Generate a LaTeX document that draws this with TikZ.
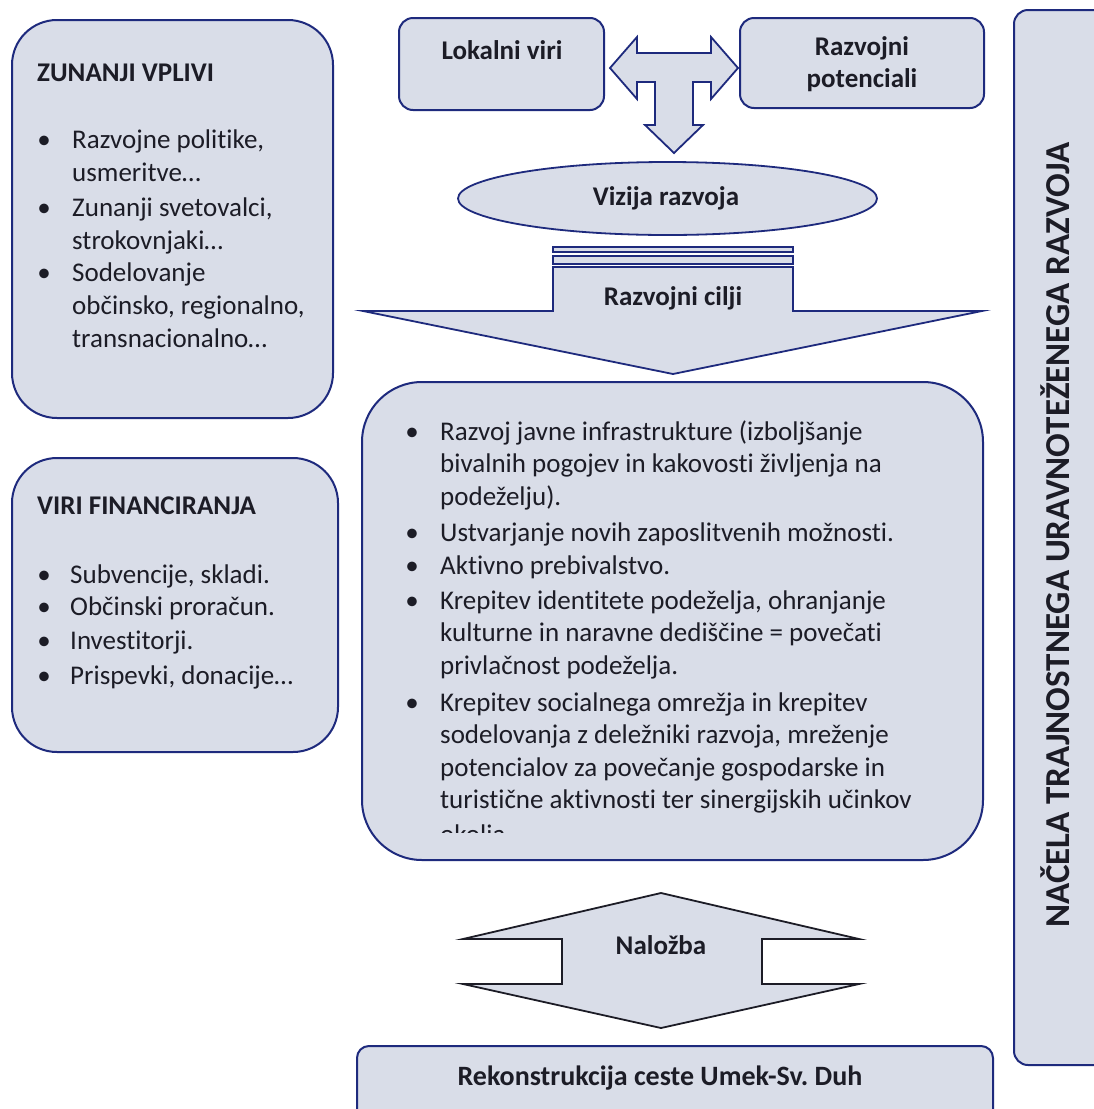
\documentclass[tikz,border=0pt]{standalone}
\usepackage{fontspec}
\setmainfont{Carlito}[Ligatures={NoCommon,NoContextual},Contextuals=NoAlternate]
\definecolor{boxfill}{RGB}{217,221,232}
\definecolor{boxline}{RGB}{30,42,125}
\definecolor{txt}{RGB}{28,28,38}
\newcommand\mylines[1]{\begin{tabular}[t]{@{}l@{}}#1\end{tabular}}
\frenchspacing
\begin{document}
\begin{tikzpicture}[x=1pt,y=-1pt,
  panel/.style={draw=boxline, fill=boxfill, line width=2pt, inner sep=0pt},
  shapefill/.style={draw=boxline, fill=boxfill, line width=1.8pt, line join=miter},
  body/.style={anchor=base west, align=left, inner sep=0pt, text=txt, font=\fontsize{27}{33}\selectfont},
  bul/.style={anchor=base, inner sep=0pt, text=txt, font=\fontsize{27}{33}\selectfont},
  hd/.style={inner sep=0pt, text=txt, font=\bfseries\fontsize{27}{32}\selectfont}]
\useasboundingbox (0,0) rectangle (1093,1109);
\fill[white] (0,0) rectangle (1093,1109);

% right bar
\node[panel, rounded corners=14, minimum width=96, minimum height=1055] (bar) at (1062,537.5) {};
\node[hd, rotate=90, font=\bfseries\fontsize{35}{35}\selectfont] (bartxt) at (1055,535) {NAČELA TRAJNOSTNEGA URAVNOTEŽENEGA RAZVOJA};

% left box 1
\node[panel, rounded corners=45, minimum width=321, minimum height=398] (zv) at (172.5,219) {};
\node[hd, anchor=base west] (zvt) at (37,81) {ZUNANJI VPLIVI};
\node[bul] (zb1) at (44,148) {\textbullet};
\node[body] (zi1) at (72,148) {\mylines{Razvojne politike,\\usmeritve…}};
\node[bul] (zb2) at (44,216) {\textbullet};
\node[body] (zi2) at (72,216) {\mylines{Zunanji svetovalci,\\strokovnjaki…}};
\node[bul] (zb3) at (44,281) {\textbullet};
\node[body] (zi3) at (72,281) {\mylines{Sodelovanje\\občinsko, regionalno,\\transnacionalno…}};

% left box 2
\node[panel, rounded corners=45, minimum width=326, minimum height=294] (vf) at (175,605) {};
\node[hd, anchor=base west] (vft) at (37,514) {VIRI FINANCIRANJA};
\node[bul] (vb1) at (44,583) {\textbullet};
\node[body] (vi1) at (70,583) {Subvencije, skladi.};
\node[bul] (vb2) at (44,615) {\textbullet};
\node[body] (vi2) at (70,615) {Občinski proračun.};
\node[bul] (vb3) at (44,649) {\textbullet};
\node[body] (vi3) at (70,649) {Investitorji.};
\node[bul] (vb4) at (44,684) {\textbullet};
\node[body] (vi4) at (70,684) {Prispevki, donacije…};

% top boxes
\node[panel, rounded corners=14, minimum width=205, minimum height=92] (lv) at (501.5,64) {};
\node[hd] (lvt) at (502,50) {Lokalni viri};
\node[panel, rounded corners=14, minimum width=244, minimum height=90] (rp) at (862,63) {};
\node[hd, align=center] (rpt) at (862,64) {Razvojni\\potenciali};

% T arrow
\draw[shapefill] (610,68) -- (637,37) -- (637,53) -- (711,53) -- (711,37) -- (738,68)
  -- (711,99) -- (711,82) -- (693,82) -- (693,125) -- (703,125) -- (674,153)
  -- (645,125) -- (655,125) -- (655,82) -- (637,82) -- (637,99) -- cycle;

% vision ellipse
\draw[shapefill] (667.5,198.5) ellipse [x radius=209.5, y radius=36.5];
\node[hd] (viz) at (666,198) {Vizija razvoja};

% goals arrow
\draw[shapefill] (553,247) rectangle (793,252);
\draw[shapefill] (553,256) rectangle (793,264);
\draw[shapefill] (553,267) -- (793,267) -- (793,311) -- (982,311) -- (673,374)
  -- (363,311) -- (553,311) -- cycle;
\node[hd] (cilji) at (673,298) {Razvojni cilji};

% middle box
\node[panel, rounded corners=60, minimum width=621, minimum height=478] (mid) at (672.5,621) {};
\node[bul] (mb1) at (412,440) {\textbullet};
\node[body, font=\fontsize{27}{32.5}\selectfont] (mi1) at (440,440) {\mylines{Razvoj javne infrastrukture (izboljšanje\\bivalnih pogojev in kakovosti življenja na\\podeželju).}};
\node[bul] (mb2) at (412,541) {\textbullet};
\node[body] (mi2) at (440,541) {Ustvarjanje novih zaposlitvenih možnosti.};
\node[bul] (mb3) at (412,574) {\textbullet};
\node[body] (mi3) at (440,574) {Aktivno prebivalstvo.};
\node[bul] (mb4) at (412,609) {\textbullet};
\node[body, font=\fontsize{27}{32.5}\selectfont] (mi4) at (440,609) {\mylines{Krepitev identitete podeželja, ohranjanje\\kulturne in naravne dediščine = povečati\\privlačnost podeželja.}};
\node[bul] (mb5) at (412,711) {\textbullet};
\node[body, font=\fontsize{27}{32.5}\selectfont] (mi5) at (440,711) {\mylines{Krepitev socialnega omrežja in krepitev\\sodelovanja z deležniki razvoja, mreženje\\potencialov za povečanje gospodarske in\\turistične aktivnosti ter sinergijskih učinkov}};
\begin{scope}
\clip (420,815) rectangle (980,832);
\node[body] (mi5b) at (440,843) {okolja.};
\end{scope}

% investment arrow
\draw[line width=1.8pt, draw=txt, fill=boxfill, line join=miter] (661,893) -- (859,939) -- (762,939) -- (762,984) -- (859,984)
  -- (661,1028) -- (463,984) -- (562,984) -- (562,939) -- (463,939) -- cycle;
\node[hd] (nal) at (661,945) {Naložba};

% bottom box
\node[panel, rounded corners=12, minimum width=636, minimum height=80] (rek) at (675,1086) {};
\node[hd, font=\bfseries\fontsize{28}{32}\selectfont] (rekt) at (660,1078) {Rekonstrukcija ceste Umek-Sv. Duh};
\end{tikzpicture}
\end{document}
